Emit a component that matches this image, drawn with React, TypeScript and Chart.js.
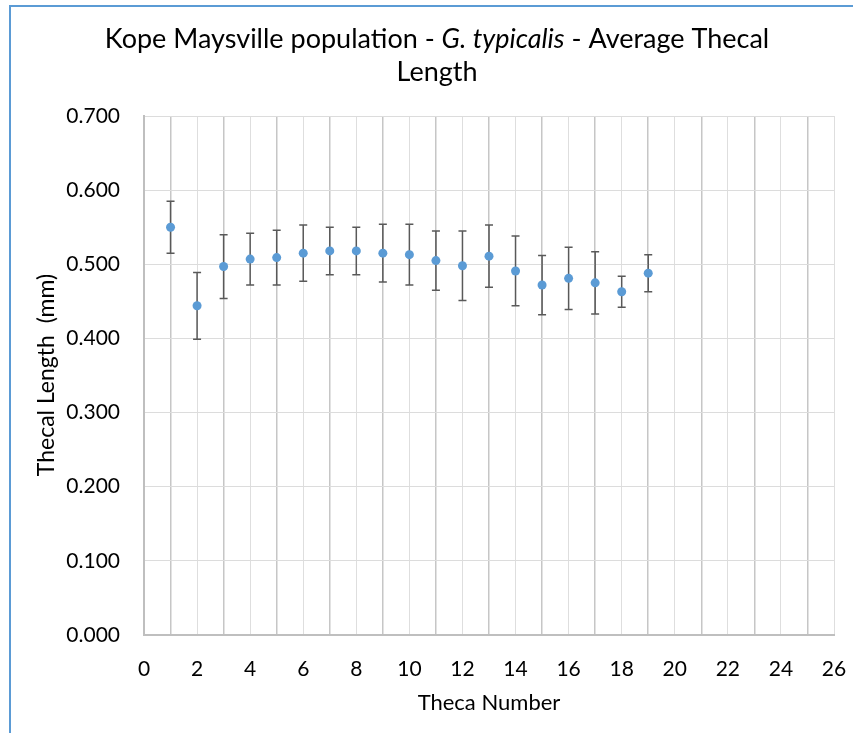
import React, { useEffect, useRef } from "react";
import { Chart, registerables } from "chart.js";

Chart.register(...registerables);

const thecaNumbers = [1, 2, 3, 4, 5, 6, 7, 8, 9, 10, 11, 12, 13, 14, 15, 16, 17, 18, 19];
const meanLength = [0.550, 0.444, 0.497, 0.507, 0.509, 0.515, 0.518, 0.518, 0.515, 0.513, 0.505, 0.498, 0.511, 0.491, 0.472, 0.481, 0.475, 0.463, 0.488];
const errLength = [0.035, 0.045, 0.043, 0.035, 0.037, 0.038, 0.032, 0.032, 0.039, 0.041, 0.040, 0.047, 0.042, 0.047, 0.040, 0.042, 0.042, 0.021, 0.025];

const titleParts = [
  { text: "Kope Maysville population - ", italic: false },
  { text: "G. typicalis", italic: true },
  { text: " - Average Thecal", italic: false },
];
const titleLine2 = "Length";
const xTitle = "Theca Number";
const yTitle = "Thecal Length  (mm)";

const FONT = "Lato, 'Open Sans', sans-serif";

const decorPlugin = {
  id: "decor",
  beforeDatasetsDraw(chart: any) {
    const ctx = chart.ctx;
    const xs = chart.scales.x;
    const ys = chart.scales.y;
    ctx.save();
    ctx.strokeStyle = "#595959";
    ctx.lineWidth = 1.5;
    for (let i = 0; i < thecaNumbers.length; i++) {
      const px = xs.getPixelForValue(thecaNumbers[i]);
      const top = ys.getPixelForValue(meanLength[i] + errLength[i]);
      const bot = ys.getPixelForValue(meanLength[i] - errLength[i]);
      ctx.beginPath();
      ctx.moveTo(px, top);
      ctx.lineTo(px, bot);
      ctx.moveTo(px - 4, top);
      ctx.lineTo(px + 4, top);
      ctx.moveTo(px - 4, bot);
      ctx.lineTo(px + 4, bot);
      ctx.stroke();
    }
    ctx.restore();
  },
  afterDraw(chart: any) {
    const ctx = chart.ctx;
    ctx.save();
    // outer border
    ctx.strokeStyle = "#5b9bd5";
    ctx.lineWidth = 2;
    ctx.beginPath();
    ctx.moveTo(10, 740);
    ctx.lineTo(10, 6);
    ctx.lineTo(860, 6);
    ctx.stroke();

    // title
    ctx.fillStyle = "#000000";
    ctx.textBaseline = "alphabetic";
    const size = 27;
    const normal = `${size}px ${FONT}`;
    const italic = `italic ${size}px ${FONT}`;
    let total = 0;
    const widths: number[] = [];
    for (const p of titleParts) {
      ctx.font = p.italic ? italic : normal;
      const w = ctx.measureText(p.text).width;
      widths.push(w);
      total += w;
    }
    let x = 437 - total / 2;
    ctx.textAlign = "left";
    titleParts.forEach((p, i) => {
      ctx.font = p.italic ? italic : normal;
      ctx.fillText(p.text, x, 48);
      x += widths[i];
    });
    ctx.font = normal;
    ctx.textAlign = "center";
    ctx.fillText(titleLine2, 437, 81);

    // axis titles
    ctx.font = `22px ${FONT}`;
    ctx.textAlign = "center";
    ctx.textBaseline = "middle";
    ctx.fillText(xTitle, 489, 703);
    ctx.font = `23px ${FONT}`;
    ctx.translate(47, 375);
    ctx.rotate(-Math.PI / 2);
    ctx.fillText(yTitle, 0, 0);
    ctx.restore();
  },
};

export default function App() {
  const ref = useRef<HTMLCanvasElement | null>(null);
  useEffect(() => {
    if (!ref.current) return;
    const chart = new Chart(ref.current, {
      type: "scatter",
      data: {
        datasets: [
          {
            data: thecaNumbers.map((t, i) => ({ x: t, y: meanLength[i] })),
            backgroundColor: "#5b9bd5",
            borderColor: "#5b9bd5",
            borderWidth: 0,
            pointRadius: 4.5,
          },
        ],
      },
      options: {
        animation: false,
        responsive: false,
        devicePixelRatio: 1,
        layout: { padding: { left: 0, top: 116, right: 19, bottom: 0 } },
        plugins: {
          legend: { display: false },
          title: { display: false },
          tooltip: { enabled: false },
        },
        scales: {
          x: {
            type: "linear",
            min: 0,
            max: 26,
            afterFit(scale: any) {
              scale.height = 733 - 635;
              scale.paddingLeft = 0;
              scale.paddingRight = 0;
            },
            ticks: {
              stepSize: 1,
              autoSkip: false,
              maxRotation: 0,
              padding: 22,
              color: "#000000",
              font: { family: FONT, size: 21 },
              callback: (v: any) => (Number(v) % 2 === 0 ? String(v) : ""),
            },
            grid: {
              drawTicks: false,
              color: (c: any) => (c.tick && Math.round(c.tick.value) % 2 === 1 ? "#c6c6c6" : "#dedede"),
              lineWidth: (c: any) => (c.tick && Math.round(c.tick.value) % 2 === 1 ? 1.5 : 1),
            },
            border: { color: "#bfbfbf", width: 2 },
          },
          y: {
            min: 0,
            max: 0.7,
            afterFit(scale: any) {
              scale.width = 144;
              scale.paddingTop = 0;
              scale.paddingBottom = 0;
            },
            ticks: {
              stepSize: 0.1,
              padding: 24,
              color: "#000000",
              font: { family: FONT, size: 21 },
              callback: (v: any) => Number(v).toFixed(3),
            },
            grid: {
              drawTicks: false,
              color: "#dcdcdc",
              lineWidth: 1,
            },
            border: { color: "#bfbfbf", width: 2 },
          },
        },
      },
      plugins: [decorPlugin],
    });
    return () => chart.destroy();
  }, []);
  return (
    <div style={{ position: "absolute", left: 0, top: 0, width: 853, height: 733, overflow: "hidden", background: "#ffffff" }}>
      <canvas ref={ref} width={853} height={733} style={{ display: "block" }} />
    </div>
  );
}
